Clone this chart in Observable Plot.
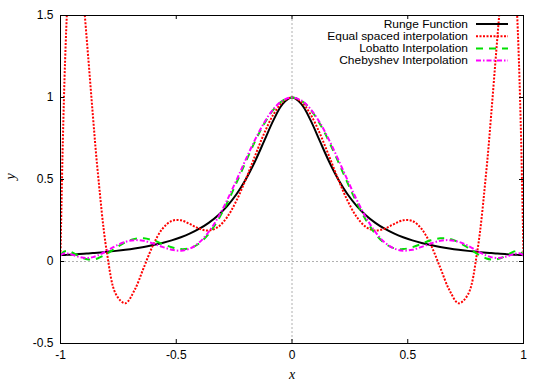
<!DOCTYPE html>
<html><head><meta charset="utf-8">
<script src="https://cdn.jsdelivr.net/npm/d3@7"></script>
<script src="https://cdn.jsdelivr.net/npm/@observablehq/plot@0.6"></script>
<style>html,body{margin:0;padding:0;background:#fff;} svg{display:block}</style>
</head><body><div id="chart"></div>
<script>
const xs = [-1, -0.99, -0.98, -0.97, -0.96, -0.94, -0.92, -0.9, -0.88, -0.86, -0.84, -0.8, -0.76, -0.72, -0.68, -0.64, -0.6, -0.56, -0.52, -0.48, -0.44, -0.4, -0.36, -0.32, -0.28, -0.24, -0.2, -0.16, -0.12, -0.08, -0.04, 0, 0.04, 0.08, 0.12, 0.16, 0.2, 0.24, 0.28, 0.32, 0.36, 0.4, 0.44, 0.48, 0.52, 0.56, 0.6, 0.64, 0.68, 0.72, 0.76, 0.8, 0.84, 0.86, 0.88, 0.9, 0.92, 0.94, 0.96, 0.97, 0.98, 0.99, 1];

const runge = [0.0385, 0.0392, 0.0400, 0.0408, 0.0416, 0.0433, 0.0451, 0.0471, 0.0491, 0.0513, 0.0536, 0.0588, 0.0648, 0.0716, 0.0796, 0.0890, 0.1, 0.1131, 0.1289, 0.1479, 0.1712, 0.2, 0.2358, 0.2809, 0.3378, 0.4098, 0.5, 0.6098, 0.7353, 0.8621, 0.9615,
  1,
  0.9615, 0.8621, 0.7353, 0.6098, 0.5, 0.4098, 0.3378, 0.2809, 0.2358, 0.2, 0.1712, 0.1479, 0.1289, 0.1131, 0.1, 0.0890, 0.0796, 0.0716, 0.0648, 0.0588, 0.0536, 0.0513, 0.0491, 0.0471, 0.0451, 0.0433, 0.0416, 0.0408, 0.0400, 0.0392, 0.0385];

const equalSpaced = [0.0385, 0.7261, 1.2303, 1.5810, 1.8044, 1.9590, 1.8459, 1.5787, 1.2402, 0.8881, 0.5605, 0.0588, -0.2013, -0.2546, -0.1743, -0.0363, 0.1, 0.1987, 0.2472, 0.2510, 0.2278, 0.2, 0.1888, 0.2099, 0.2710, 0.3708, 0.5, 0.6432, 0.7817, 0.8971, 0.9734,
  1,
  0.9734, 0.8971, 0.7817, 0.6432, 0.5, 0.3708, 0.2710, 0.2099, 0.1888, 0.2, 0.2278, 0.2510, 0.2472, 0.1987, 0.1, -0.0363, -0.1743, -0.2546, -0.2013, 0.0588, 0.5605, 0.8881, 1.2402, 1.5787, 1.8459, 1.9590, 1.8044, 1.5810, 1.2303, 0.7261, 0.0385];

const lobatto = [0.0385, 0.0548, 0.0627, 0.0643, 0.0616, 0.0486, 0.0328, 0.0197, 0.0125, 0.0122, 0.0186, 0.0468, 0.0843, 0.1178, 0.1380, 0.1412, 0.1292, 0.1083, 0.0873, 0.0755, 0.0815, 0.1115, 0.1685, 0.2519, 0.3578, 0.4792, 0.6070, 0.7309, 0.8405, 0.9265, 0.9812,
  1,
  0.9812, 0.9265, 0.8405, 0.7309, 0.6070, 0.4792, 0.3578, 0.2519, 0.1685, 0.1115, 0.0815, 0.0755, 0.0873, 0.1083, 0.1292, 0.1412, 0.1380, 0.1178, 0.0843, 0.0468, 0.0186, 0.0122, 0.0125, 0.0197, 0.0328, 0.0486, 0.0616, 0.0643, 0.0627, 0.0548, 0.0385];

const chebyshev = [0.0385, 0.0466, 0.0497, 0.0491, 0.0462, 0.0370, 0.0279, 0.0223, 0.0218, 0.0266, 0.0362, 0.0647, 0.0960, 0.1199, 0.1302, 0.1258, 0.1100, 0.0892, 0.0718, 0.0662, 0.0797, 0.1169, 0.1799, 0.2674, 0.3751, 0.4959, 0.6213, 0.7416, 0.8473, 0.9297, 0.9821,
  1,
  0.9821, 0.9297, 0.8473, 0.7416, 0.6213, 0.4959, 0.3751, 0.2674, 0.1799, 0.1169, 0.0797, 0.0662, 0.0718, 0.0892, 0.1100, 0.1258, 0.1302, 0.1199, 0.0960, 0.0647, 0.0362, 0.0266, 0.0218, 0.0223, 0.0279, 0.0370, 0.0462, 0.0491, 0.0497, 0.0466, 0.0385];

const xTicks = [-1, -0.5, 0, 0.5, 1];
const xTickLabels = ["-1", "-0.5", "0", "0.5", "1"];
const yTicks = [-0.5, 0, 0.5, 1, 1.5];
const yTickLabels = ["-0.5", "0", "0.5", "1", "1.5"];
const seriesNames = ["Runge Function", "Equal spaced interpolation", "Lobatto Interpolation", "Chebyshev Interpolation"];
const seriesValues = [runge, equalSpaced, lobatto, chebyshev];

const styles = [
  {stroke: "#000000", strokeWidth: 2, strokeDasharray: null},
  {stroke: "#ff0000", strokeWidth: 2, strokeDasharray: "2,1.5"},
  {stroke: "#00e000", strokeWidth: 2, strokeDasharray: "7,6"},
  {stroke: "#ff00ff", strokeWidth: 2, strokeDasharray: "5,2,1.5,2"}
];

const W = 545, H = 382, mL = 60, mR = 22, mT = 15, mB = 39;
const plotH = H - mT - mB, plotW = W - mL - mR, tickLen = 4;
const sans = "'Liberation Sans', Arial, Helvetica, sans-serif";
const serif = "'Liberation Serif', 'Times New Roman', serif";

const chart = Plot.plot({
  width: W, height: H,
  marginLeft: mL, marginRight: mR, marginTop: mT, marginBottom: mB,
  x: {domain: [-1, 1], axis: null},
  y: {domain: [-0.5, 1.5], axis: null},
  style: {fontFamily: sans, fontSize: "12px", background: "#fff", color: "#000"},
  marks: [
    Plot.ruleX([0], {stroke: "#b0b0b0", strokeWidth: 1, strokeDasharray: "2,2"}),
    Plot.ruleY([0], {stroke: "#b0b0b0", strokeWidth: 1, strokeDasharray: "2,2"}),
    ...seriesValues.map((v, i) => Plot.line(xs, {
      x: xs, y: v, curve: "catmull-rom", clip: true,
      stroke: styles[i].stroke, strokeWidth: styles[i].strokeWidth,
      strokeDasharray: styles[i].strokeDasharray, strokeLinecap: "butt"
    })),
    Plot.frame({stroke: "#000", strokeWidth: 1}),
    Plot.tickX(xTicks, {x: d => d, insetTop: plotH - tickLen, stroke: "#000"}),
    Plot.tickX(xTicks, {x: d => d, insetBottom: plotH - tickLen, stroke: "#000"}),
    Plot.tickY(yTicks, {y: d => d, insetRight: plotW - tickLen, stroke: "#000"}),
    Plot.tickY(yTicks, {y: d => d, insetLeft: plotW - tickLen, stroke: "#000"}),
    Plot.text(xTicks, {x: d => d, text: (d, i) => xTickLabels[i], frameAnchor: "bottom", dy: 12, lineAnchor: "middle", fill: "#000", fontSize: 12}),
    Plot.text(yTicks, {y: d => d, text: (d, i) => yTickLabels[i], frameAnchor: "left", dx: -7, textAnchor: "end", fill: "#000", fontSize: 12}),
    Plot.text(["x"], {frameAnchor: "bottom", dy: 31, lineAnchor: "middle", fontStyle: "italic", fontFamily: serif, fontSize: 14, fill: "#000"}),
    Plot.text(["y"], {frameAnchor: "left", dx: -50, rotate: -90, lineAnchor: "middle", fontStyle: "italic", fontFamily: serif, fontSize: 14, fill: "#000"})
  ]
});

// Legend (inside the plot, top-right); slightly condensed height, stretched width
const lg = d3.select(chart).append("g")
  .attr("font-family", sans).attr("font-size", 10.4);
const textRight = W - mR - 55, lineX1 = W - mR - 47, lineX2 = W - mR - 15;
seriesNames.forEach((name, i) => {
  const y = mT + 9 + i * 12.2;
  lg.append("text")
    .attr("transform", `translate(${textRight},${y}) scale(1.15,1)`)
    .attr("dy", "0.35em")
    .attr("text-anchor", "end").attr("fill", "#000").text(name);
  lg.append("line").attr("x1", lineX1).attr("x2", lineX2).attr("y1", y).attr("y2", y)
    .attr("stroke", styles[i].stroke).attr("stroke-width", styles[i].strokeWidth)
    .attr("stroke-dasharray", styles[i].strokeDasharray);
});

document.getElementById("chart").appendChild(chart);
</script>
</body></html>
